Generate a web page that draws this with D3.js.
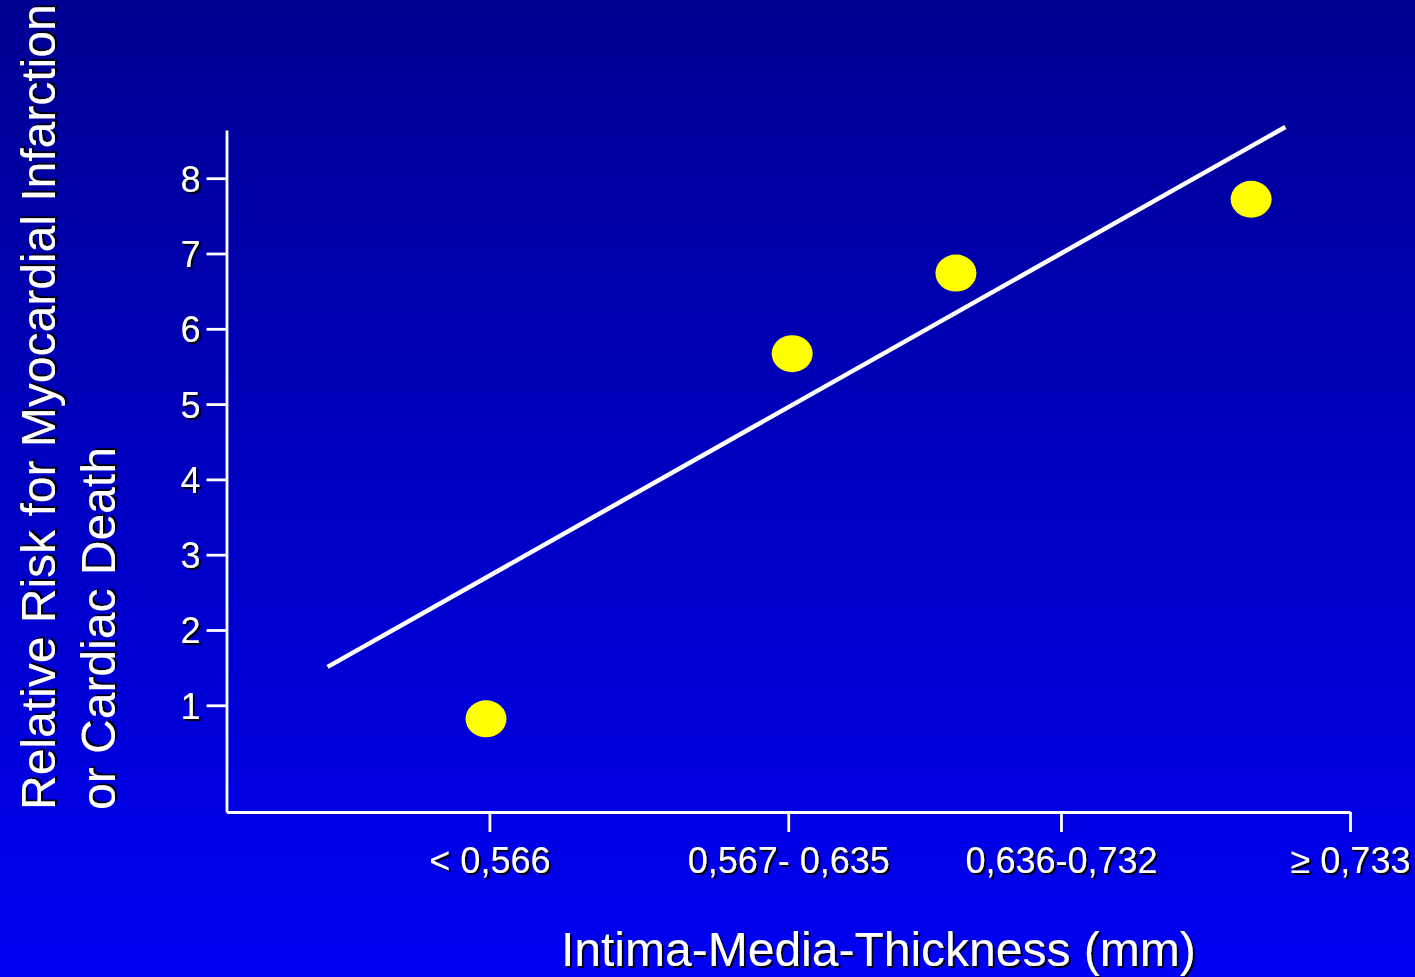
<!DOCTYPE html>
<html>
<head>
<meta charset="utf-8">
<script src="https://cdn.jsdelivr.net/npm/d3@7"></script>
<style>
  html, body { margin: 0; padding: 0; background: #0000c0; }
  svg { display: block; }
  text { font-family: "Liberation Sans", Arial, sans-serif; fill: #fff; }
</style>
</head>
<body>
<script>
// IMT category labels and where each tick sits along the x scale
const categories = ["< 0,566", "0,567- 0,635", "0,636-0,732", "\u2265 0,733"];
const tickAt = [0.936, 2.0, 2.971, 4.0];

// Observed relative risk per IMT group
const pointX = [0.924, 2.014, 2.597, 3.648];
const riskValues = [0.82, 5.67, 6.74, 7.72];

// Fitted trend line (two end points)
const trendX = [0.36, 3.77];
const trendY = [1.51, 8.68];

const yTicks = [1, 2, 3, 4, 5, 6, 7, 8];

const W = 1415, H = 977;
const svg = d3.select("body").append("svg").attr("width", W).attr("height", H);

const defs = svg.append("defs");
const grad = defs.append("linearGradient").attr("id", "bg")
  .attr("x1", 0).attr("y1", 0).attr("x2", 0).attr("y2", 1);
grad.append("stop").attr("offset", "0%").attr("stop-color", "#000092");
grad.append("stop").attr("offset", "100%").attr("stop-color", "#0000f4");

const shadow = defs.append("filter").attr("id", "shadow")
  .attr("x", "-10%").attr("y", "-10%").attr("width", "130%").attr("height", "140%");
shadow.append("feDropShadow").attr("dx", 2).attr("dy", 2)
  .attr("stdDeviation", 0.6).attr("flood-color", "#000").attr("flood-opacity", 0.9);

svg.append("rect").attr("width", W).attr("height", H).attr("fill", "url(#bg)");

const x = d3.scaleLinear().domain([0, 4]).range([226.5, 1350]);
const y = d3.scaleLinear().domain([-0.417, 8.64]).range([812, 130]);

// Y axis
const yAxis = svg.append("g").attr("transform", `translate(${x(0)},0)`)
  .call(d3.axisLeft(y).tickValues(yTicks).tickSize(20).tickSizeOuter(0).tickPadding(6));
// X axis
const xAxis = svg.append("g").attr("transform", `translate(0,${y.range()[0]})`)
  .call(d3.axisBottom(x).tickValues(tickAt).tickSize(20).tickSizeOuter(0).tickPadding(15)
    .tickFormat((d, i) => categories[i]));

[yAxis, xAxis].forEach(g => {
  g.attr("font-family", null).attr("font-size", null);
  g.select(".domain").attr("stroke", "#fff").attr("stroke-width", 2.8);
  g.selectAll(".tick line").attr("stroke", "#fff").attr("stroke-width", 2.8);
  g.selectAll(".tick text").attr("fill", "#fff").style("font-size", "36px")
    .attr("filter", "url(#shadow)");
});
yAxis.selectAll(".tick text").attr("dy", "0.36em");

// Trend line
svg.append("path")
  .datum(trendX.map((d, i) => [d, trendY[i]]))
  .attr("d", d3.line().x(d => x(d[0])).y(d => y(d[1])))
  .attr("stroke", "#fff").attr("stroke-width", 4.5).attr("fill", "none");

// Data points
svg.append("g").selectAll("ellipse")
  .data(riskValues)
  .join("ellipse")
  .attr("cx", (d, i) => x(pointX[i]))
  .attr("cy", d => y(d))
  .attr("rx", 20.5).attr("ry", 18.5)
  .attr("fill", "#ffff00");

// Axis titles
svg.append("text")
  .attr("x", 561).attr("y", 966)
  .style("font-size", "48px")
  .attr("filter", "url(#shadow)")
  .text("Intima-Media-Thickness (mm)");

const yTitle = svg.append("text")
  .attr("transform", "translate(55,810) rotate(-90)")
  .style("font-size", "48px")
  .attr("filter", "url(#shadow)");
yTitle.append("tspan").attr("x", 0).attr("y", 0).text("Relative Risk for Myocardial Infarction");
yTitle.append("tspan").attr("x", 0).attr("y", 60).text("or Cardiac Death");
</script>
</body>
</html>
